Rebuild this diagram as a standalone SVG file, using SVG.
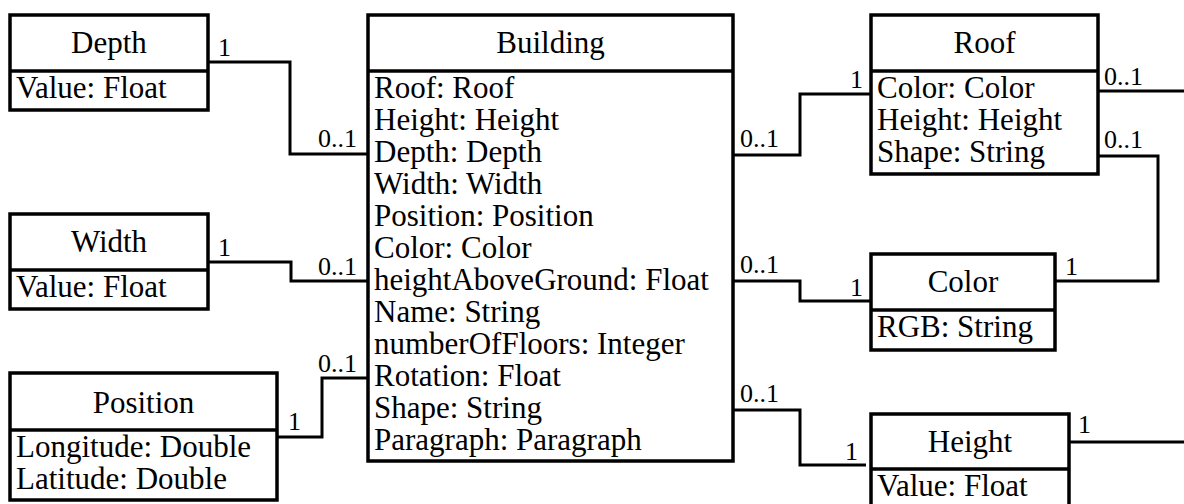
<svg xmlns="http://www.w3.org/2000/svg" width="1184" height="504" viewBox="0 0 1184 504">
<style>
text{font-family:"Liberation Serif","Times New Roman",serif;fill:#000}
.t{font-size:31px;text-anchor:middle}
.a{font-size:31px}
.m{font-size:26px}
.box{fill:#fff;stroke:#000;stroke-width:3.5}
.div{stroke:#000;stroke-width:3.5}
.c{fill:none;stroke:#000;stroke-width:3}
</style>
<rect width="1184" height="504" fill="#fff"/>
<g id="connectors">
<polyline class="c" points="208,62 290,62 290,154 368,154"/>
<polyline class="c" points="208,262 291,262 291,281 368,281"/>
<polyline class="c" points="277,437 322,437 322,378 368,378"/>
<polyline class="c" points="733,155 800,155 800,94 871,94"/>
<polyline class="c" points="733,281 800,281 800,301 871,301"/>
<polyline class="c" points="733,410 800,410 800,465 866,465"/>
<polyline class="c" points="1098,91 1184,91"/>
<polyline class="c" points="1098,156 1158,156 1158,281 1055,281"/>
<polyline class="c" points="1069,442 1184,442"/>
<text class="m" x="218" y="56">1</text>
<text class="m" x="318" y="147">0..1</text>
<text class="m" x="218" y="256">1</text>
<text class="m" x="318" y="275">0..1</text>
<text class="m" x="288" y="430">1</text>
<text class="m" x="318" y="372">0..1</text>
<text class="m" x="740" y="147">0..1</text>
<text class="m" x="850" y="88">1</text>
<text class="m" x="740" y="273">0..1</text>
<text class="m" x="850" y="296">1</text>
<text class="m" x="740" y="402">0..1</text>
<text class="m" x="845" y="460">1</text>
<text class="m" x="1104" y="85">0..1</text>
<text class="m" x="1104" y="148">0..1</text>
<text class="m" x="1065" y="275">1</text>
<text class="m" x="1078" y="433">1</text>
</g>
<g id="depth">
<rect class="box" x="10" y="15" width="198" height="95"/>
<line class="div" x1="10" y1="71" x2="208" y2="71"/>
<text class="t" x="109" y="53">Depth</text>
<text class="a" x="16" y="98">Value: Float</text>
</g>
<g id="width">
<rect class="box" x="10" y="214" width="198" height="95"/>
<line class="div" x1="10" y1="270" x2="208" y2="270"/>
<text class="t" x="109" y="252">Width</text>
<text class="a" x="16" y="297">Value: Float</text>
</g>
<g id="position">
<rect class="box" x="10" y="373" width="267" height="127"/>
<line class="div" x1="10" y1="430" x2="277" y2="430"/>
<text class="t" x="143.5" y="413">Position</text>
<text class="a" x="16" y="457">Longitude: Double</text>
<text class="a" x="16" y="489">Latitude: Double</text>
</g>
<g id="building">
<rect class="box" x="368" y="15" width="365" height="446"/>
<line class="div" x1="368" y1="71" x2="733" y2="71"/>
<text class="t" x="550.5" y="53">Building</text>
<text class="a" x="374" y="98">Roof: Roof</text>
<text class="a" x="374" y="130">Height: Height</text>
<text class="a" x="374" y="162">Depth: Depth</text>
<text class="a" x="374" y="194">Width: Width</text>
<text class="a" x="374" y="226">Position: Position</text>
<text class="a" x="374" y="258">Color: Color</text>
<text class="a" x="374" y="290">heightAboveGround: Float</text>
<text class="a" x="374" y="322">Name: String</text>
<text class="a" x="374" y="354">numberOfFloors: Integer</text>
<text class="a" x="374" y="386">Rotation: Float</text>
<text class="a" x="374" y="418">Shape: String</text>
<text class="a" x="374" y="450">Paragraph: Paragraph</text>
</g>
<g id="roof">
<rect class="box" x="871" y="15" width="227" height="159"/>
<line class="div" x1="871" y1="71" x2="1098" y2="71"/>
<text class="t" x="984.5" y="53">Roof</text>
<text class="a" x="877" y="98">Color: Color</text>
<text class="a" x="877" y="130">Height: Height</text>
<text class="a" x="877" y="162">Shape: String</text>
</g>
<g id="color">
<rect class="box" x="871" y="254" width="184" height="96"/>
<line class="div" x1="871" y1="310" x2="1055" y2="310"/>
<text class="t" x="963" y="292">Color</text>
<text class="a" x="877" y="337">RGB: String</text>
</g>
<g id="height">
<rect class="box" x="871" y="414" width="198" height="95"/>
<line class="div" x1="871" y1="469" x2="1069" y2="469"/>
<text class="t" x="970" y="452">Height</text>
<text class="a" x="877" y="496">Value: Float</text>
</g>
</svg>
